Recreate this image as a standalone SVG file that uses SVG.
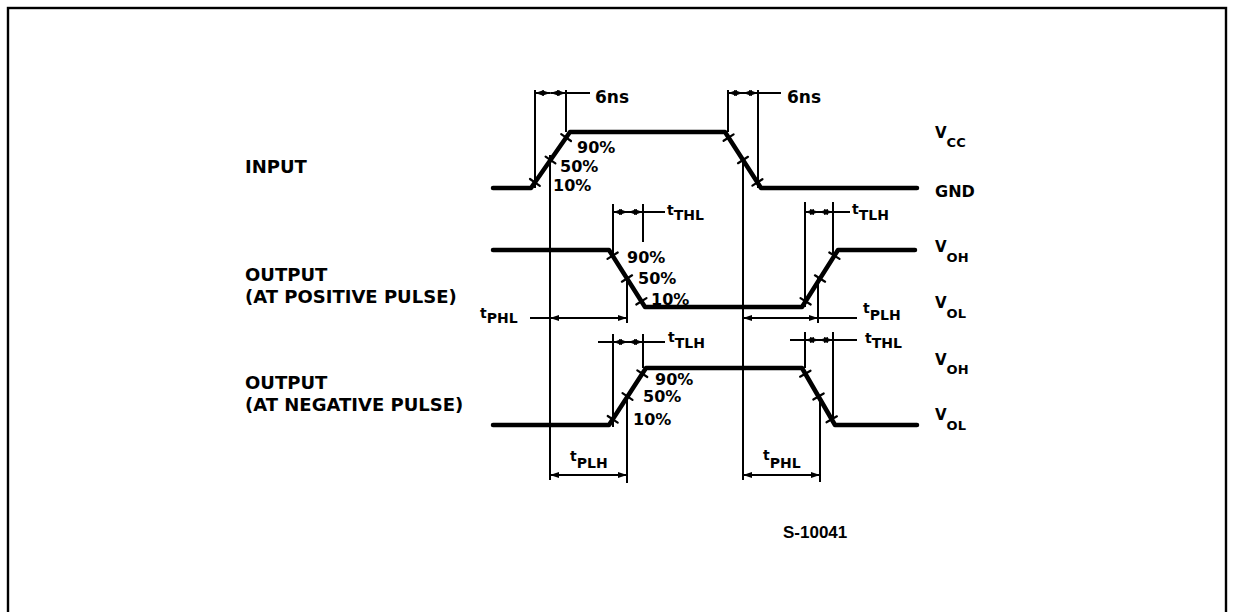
<svg xmlns="http://www.w3.org/2000/svg" width="1234" height="612" viewBox="0 0 1234 612">
<style>
.bg{fill:#fff}
.frame{fill:none;stroke:#000;stroke-width:2.4}
.wave{fill:none;stroke:#000;stroke-width:4.5;stroke-linejoin:round;stroke-linecap:round}
.tick{stroke:#000;stroke-width:2.2;stroke-linecap:round}
.ext{stroke:#000;stroke-width:2}
.dim{stroke:#000;stroke-width:2;fill:none}
.dima{stroke:#000;stroke-width:2;fill:none;marker-start:url(#arr);marker-end:url(#arr)}
text{font-family:"DejaVu Sans",Verdana,sans-serif;font-weight:bold;fill:#000}
.lab{font-size:18px}
.pct{font-size:16px}
.ns{font-size:17px}
.t{font-size:14px}
.sub{font-size:14px}
.v{font-size:15px}
.vs{font-size:13px}
.id{font-family:"Liberation Sans",Arial,sans-serif;font-size:17px}
</style>
<defs>
<marker id="arr" viewBox="0 0 9 6" refX="9" refY="3" markerWidth="9" markerHeight="6" markerUnits="userSpaceOnUse" orient="auto-start-reverse">
<path d="M0,0 L9,3 L0,6 z" fill="#000"/>
</marker>
</defs>
<rect class="bg" x="0" y="0" width="1234" height="612"/>
<rect class="frame" x="8" y="8" width="1218" height="640"/>

<g id="labels-left">
<text class="lab" x="245" y="173">INPUT</text>
<text class="lab" x="245" y="281">OUTPUT</text>
<text class="lab" x="245" y="303">(AT POSITIVE PULSE)</text>
<text class="lab" x="245" y="389">OUTPUT</text>
<text class="lab" x="245" y="411">(AT NEGATIVE PULSE)</text>
</g>

<g id="input">
<polyline class="wave" points="493,188 531,188 570,132 725,132 761,188 917,188"/>
<line class="tick" x1="530" y1="179" x2="539.8" y2="185.8"/>
<line class="tick" x1="545.6" y1="156.6" x2="555.4" y2="163.4"/>
<line class="tick" x1="561.2" y1="134.2" x2="571" y2="141"/>
<line class="tick" x1="723.6" y1="140.8" x2="733.6" y2="134.4"/>
<line class="tick" x1="738" y1="163.2" x2="748" y2="156.8"/>
<line class="tick" x1="752.4" y1="185.6" x2="762.4" y2="179.2"/>
<text class="pct" x="577" y="153">90%</text>
<text class="pct" x="560" y="172">50%</text>
<text class="pct" x="553" y="191">10%</text>
</g>

<g id="output-positive">
<polyline class="wave" points="493,250 609,250 645,307 802,307 838,250 915,250"/>
<line class="tick" x1="607.5" y1="258.9" x2="617.7" y2="252.5"/>
<line class="tick" x1="621.9" y1="281.7" x2="632.1" y2="275.3"/>
<line class="tick" x1="636.3" y1="304.5" x2="646.5" y2="298.1"/>
<line class="tick" x1="800.5" y1="298.1" x2="810.7" y2="304.5"/>
<line class="tick" x1="814.9" y1="275.3" x2="825.1" y2="281.7"/>
<line class="tick" x1="829.3" y1="252.5" x2="839.5" y2="258.9"/>
<text class="pct" x="627" y="263">90%</text>
<text class="pct" x="638" y="284">50%</text>
<text class="pct" x="651" y="305">10%</text>
</g>

<g id="output-negative">
<polyline class="wave" points="493,425 609,425 646,368 802,368 835,425 917,425"/>
<line class="tick" x1="607.7" y1="416" x2="617.7" y2="422.6"/>
<line class="tick" x1="622.5" y1="393.2" x2="632.5" y2="399.8"/>
<line class="tick" x1="637.3" y1="370.4" x2="647.3" y2="377"/>
<line class="tick" x1="800.1" y1="376.7" x2="810.5" y2="370.7"/>
<line class="tick" x1="813.3" y1="399.5" x2="823.7" y2="393.5"/>
<line class="tick" x1="826.5" y1="422.3" x2="836.9" y2="416.3"/>
<text class="pct" x="655" y="385">90%</text>
<text class="pct" x="643" y="402">50%</text>
<text class="pct" x="633" y="425">10%</text>
</g>

<g id="labels-right">
<text x="935" y="138"><tspan class="v">V</tspan><tspan class="vs" dy="9">CC</tspan></text>
<text class="v" x="935" y="197" style="font-size:16px">GND</text>
<text x="935" y="252"><tspan class="v">V</tspan><tspan class="vs" dy="10">OH</tspan></text>
<text x="935" y="308"><tspan class="v">V</tspan><tspan class="vs" dy="10">OL</tspan></text>
<text x="935" y="365"><tspan class="v">V</tspan><tspan class="vs" dy="9">OH</tspan></text>
<text x="935" y="420"><tspan class="v">V</tspan><tspan class="vs" dy="10">OL</tspan></text>
</g>

<g id="connectors">
<line class="ext" x1="535" y1="90" x2="535" y2="188"/>
<line class="ext" x1="566" y1="90" x2="566" y2="132"/>
<line class="ext" x1="550" y1="155" x2="550" y2="480"/>
<line class="ext" x1="728" y1="90" x2="728" y2="132"/>
<line class="ext" x1="758" y1="90" x2="758" y2="188"/>
<line class="ext" x1="743" y1="160" x2="743" y2="480"/>
<line class="ext" x1="613" y1="204" x2="613" y2="256"/>
<line class="ext" x1="643" y1="204" x2="643" y2="242"/>
<line class="ext" x1="627" y1="278" x2="627" y2="323"/>
<line class="ext" x1="805" y1="202" x2="805" y2="307"/>
<line class="ext" x1="833" y1="202" x2="833" y2="256"/>
<line class="ext" x1="818" y1="278" x2="818" y2="323"/>
<line class="ext" x1="613" y1="334" x2="613" y2="427"/>
<line class="ext" x1="643" y1="334" x2="643" y2="368"/>
<line class="ext" x1="627" y1="395" x2="627" y2="483"/>
<line class="ext" x1="805" y1="332" x2="805" y2="368"/>
<line class="ext" x1="833" y1="332" x2="833" y2="420"/>
<line class="ext" x1="820" y1="397" x2="820" y2="482"/>

<line class="dima" x1="550.5" y1="93" x2="535" y2="93"/>
<line class="dima" x1="550.5" y1="93" x2="566" y2="93"/>
<line class="dim" x1="566" y1="93" x2="590" y2="93"/>
<line class="dima" x1="743" y1="93" x2="728" y2="93"/>
<line class="dima" x1="743" y1="93" x2="758" y2="93"/>
<line class="dim" x1="758" y1="93" x2="781" y2="93"/>

<line class="dima" x1="628" y1="212" x2="613" y2="212"/>
<line class="dima" x1="628" y1="212" x2="643" y2="212"/>
<line class="dim" x1="643" y1="212" x2="665" y2="212"/>
<line class="dima" x1="550" y1="318" x2="627" y2="318"/>
<line class="dim" x1="530" y1="318" x2="550" y2="318"/>
<line class="dima" x1="819" y1="212" x2="805" y2="212"/>
<line class="dima" x1="819" y1="212" x2="833" y2="212"/>
<line class="dim" x1="833" y1="212" x2="850" y2="212"/>
<line class="dima" x1="743" y1="318" x2="818" y2="318"/>
<line class="dim" x1="818" y1="318" x2="857" y2="318"/>

<line class="dima" x1="628" y1="342" x2="613" y2="342"/>
<line class="dima" x1="628" y1="342" x2="643" y2="342"/>
<line class="dim" x1="598" y1="342" x2="613" y2="342"/>
<line class="dim" x1="643" y1="342" x2="665" y2="342"/>
<line class="dima" x1="819" y1="340" x2="805" y2="340"/>
<line class="dima" x1="819" y1="340" x2="833" y2="340"/>
<line class="dim" x1="790" y1="340" x2="805" y2="340"/>
<line class="dim" x1="833" y1="340" x2="857" y2="340"/>

<line class="dima" x1="550" y1="475" x2="627" y2="475"/>
<line class="dima" x1="743" y1="475" x2="820" y2="475"/>
</g>

<g id="dimension-labels">
<text class="ns" x="595" y="103">6ns</text>
<text class="ns" x="787" y="103">6ns</text>
<text x="667" y="215"><tspan class="t">t</tspan><tspan class="sub" dy="5">THL</tspan></text>
<text x="480" y="318"><tspan class="t">t</tspan><tspan class="sub" dy="5">PHL</tspan></text>
<text x="852" y="214"><tspan class="t">t</tspan><tspan class="sub" dy="6">TLH</tspan></text>
<text x="863" y="313"><tspan class="t">t</tspan><tspan class="sub" dy="7">PLH</tspan></text>
<text x="668" y="342"><tspan class="t">t</tspan><tspan class="sub" dy="6">TLH</tspan></text>
<text x="865" y="343"><tspan class="t">t</tspan><tspan class="sub" dy="5">THL</tspan></text>
<text x="570" y="461"><tspan class="t">t</tspan><tspan class="sub" dy="7">PLH</tspan></text>
<text x="763" y="460"><tspan class="t">t</tspan><tspan class="sub" dy="8">PHL</tspan></text>
</g>

<text class="id" x="783" y="538">S-10041</text>
</svg>
